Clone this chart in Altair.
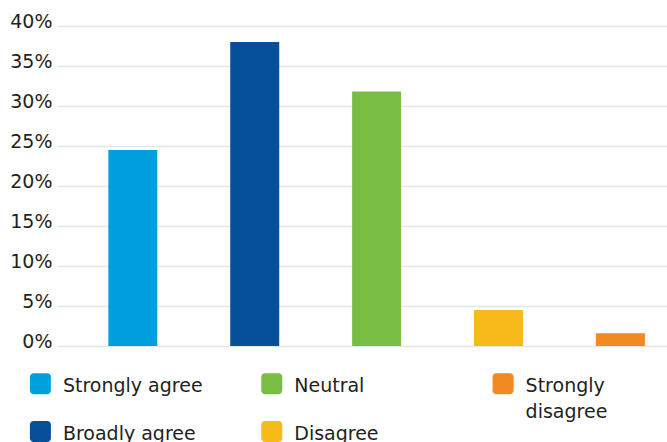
import altair as alt
import pandas as pd

# Survey responses and the share of respondents (%) giving each one
responses = ["Strongly agree", "Broadly agree", "Neutral", "Disagree", "Strongly disagree"]
shares = [24.5, 38.0, 31.8, 4.5, 1.6]
colors = ["#00A0DF", "#064F99", "#79BE43", "#F6BA1B", "#F18A22"]
legend_labels = ["Strongly agree", "Broadly agree", "Neutral", "Disagree", "Strongly\ndisagree"]
y_ticks = [0, 5, 10, 15, 20, 25, 30, 35, 40]

FONT = "DejaVu Sans"
TEXT = "#231f20"

df = pd.DataFrame({"response": responses, "share": shares, "label": legend_labels})
color_scale = alt.Scale(domain=responses, range=colors)

bars = alt.Chart(df).mark_bar().encode(
    x=alt.X(
        "response:N",
        sort=responses,
        axis=None,
        scale=alt.Scale(paddingInner=0.598, paddingOuter=0.297, align=0.695),
    ),
    y=alt.Y(
        "share:Q",
        scale=alt.Scale(domain=[0, 40], nice=False),
        axis=alt.Axis(
            values=y_ticks,
            labelExpr="datum.value + '%'",
            title=None,
            domain=False,
            ticks=False,
            grid=True,
            gridColor="#e6e6e6",
            gridWidth=1.5,
            labelFont=FONT,
            labelFontSize=19,
            labelColor=TEXT,
            labelPadding=6,
            labelOffset=-5,
            labelFlush=False,
            labelOverlap=False,
        ),
    ),
    color=alt.Color("response:N", scale=color_scale, legend=None),
)

# Legend laid out column by column: two entries per column
legend_base = alt.Chart(df).transform_window(
    idx="row_number()"
).transform_calculate(
    col="floor((datum.idx - 1) / 2)",
    row="(datum.idx - 1) % 2",
).encode(
    x=alt.X("col:Q", axis=None, scale=alt.Scale(domain=[0, 2], range=[-17.6, 445.1])),
    y=alt.Y("row:Q", axis=None, scale=alt.Scale(domain=[0, 1], range=[357.8, 405.5])),
)

rounded_square = (
    "M-1,-0.65A0.35,0.35,0,0,1,-0.65,-1L0.65,-1A0.35,0.35,0,0,1,1,-0.65"
    "L1,0.65A0.35,0.35,0,0,1,0.65,1L-0.65,1A0.35,0.35,0,0,1,-1,0.65Z"
)

swatches = legend_base.mark_point(
    shape=rounded_square, size=441, filled=True, opacity=1, strokeWidth=0
).encode(color=alt.Color("response:N", scale=color_scale, legend=None))

labels = legend_base.mark_text(
    align="left",
    baseline="alphabetic",
    dx=22.5,
    dy=8,
    font=FONT,
    fontSize=19,
    lineBreak="\n",
    lineHeight=26,
    color=TEXT,
).encode(text="label:N")

chart = (
    alt.layer(bars, swatches, labels)
    .resolve_scale(x="independent", y="independent")
    .properties(
        width=609,
        height=320,
        autosize=alt.AutoSizeParams(type="none"),
        padding={"left": 58, "top": 26, "right": 0, "bottom": 96},
        background="white",
    )
    .configure_view(stroke=None)
)

chart.save("out.html", embed_options={"renderer": "svg", "actions": False})
